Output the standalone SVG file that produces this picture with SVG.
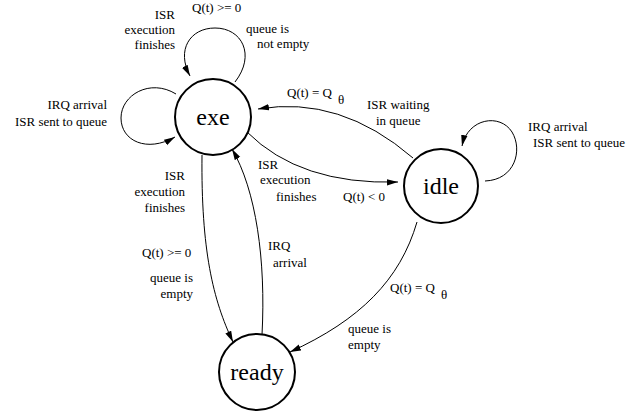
<svg xmlns="http://www.w3.org/2000/svg" width="636" height="419" viewBox="0 0 636 419">
<defs>
<marker id="arr" markerUnits="userSpaceOnUse" markerWidth="12" markerHeight="8" refX="11" refY="4" orient="auto">
<path d="M0,0.8 L11,4 L0,7.2 Z" fill="#000"/>
</marker>
<style>
.node{fill:#fff;stroke:#000;stroke-width:2}
.nl{font-family:'Liberation Serif','Times New Roman','DejaVu Serif',serif;font-size:24px;text-anchor:middle;fill:#000}
.e{fill:none;stroke:#000;stroke-width:1;marker-end:url(#arr)}
.t{font-family:'Liberation Serif','Times New Roman','DejaVu Serif',serif;font-size:13px;fill:#000}
.r{text-anchor:end}
</style>
</defs>
<rect width="636" height="419" fill="#fff"/>
<g id="connectors">
<path class="e" d="M235,82 C256,55 242,28 215,28 C190,28 176,50 190,76"/>
<path class="e" d="M176,94 C150,78 121,95 121,118 C121,141 147,153 175,137"/>
<path class="e" d="M485,181 C515,180 523,150 512,132 C500,113 468,118 462,146"/>
<path class="e" d="M413,158 Q340,95 258,109"/>
<path class="e" d="M247,132 Q300,185 398,182"/>
<path class="e" d="M202,155 C201,250 213,300 233,342"/>
<path class="e" d="M262,335 C266,260 256,190 232,149"/>
<path class="e" d="M417,222 C400,280 360,320 290,352"/>
</g>
<g id="exe"><circle class="node" cx="213" cy="117" r="38"/><text class="nl" x="213" y="125">exe</text></g>
<g id="idle"><circle class="node" cx="441" cy="186" r="37"/><text class="nl" x="441" y="194">idle</text></g>
<g id="ready"><circle class="node" cx="257" cy="372" r="38"/><text class="nl" x="257" y="380">ready</text></g>
<g id="labels">
<text class="t" x="192" y="12">Q(t) &gt;= 0</text>
<text class="t r" x="175" y="19">ISR</text>
<text class="t r" x="175" y="34">execution</text>
<text class="t r" x="175" y="49">finishes</text>
<text class="t" x="246" y="33">queue is</text>
<text class="t" x="257" y="48">not empty</text>
<text class="t r" x="107" y="109">IRQ arrival</text>
<text class="t r" x="107" y="126">ISR sent to queue</text>
<text class="t" x="287" y="97">Q(t) = Q</text>
<text class="t" x="338" y="104">θ</text>
<text class="t" x="367" y="109">ISR waiting</text>
<text class="t" x="376" y="125">in queue</text>
<text class="t" x="258" y="169">ISR</text>
<text class="t" x="260" y="184">execution</text>
<text class="t" x="276" y="201">finishes</text>
<text class="t" x="343" y="201">Q(t) &lt; 0</text>
<text class="t" x="528" y="131">IRQ arrival</text>
<text class="t" x="533" y="147">ISR sent to queue</text>
<text class="t r" x="185" y="180">ISR</text>
<text class="t r" x="185" y="196">execution</text>
<text class="t r" x="185" y="212">finishes</text>
<text class="t" x="142" y="257">Q(t) &gt;= 0</text>
<text class="t r" x="193" y="282">queue is</text>
<text class="t r" x="193" y="298">empty</text>
<text class="t" x="268" y="250">IRQ</text>
<text class="t" x="273" y="267">arrival</text>
<text class="t" x="390" y="292">Q(t) = Q</text>
<text class="t" x="441" y="299">θ</text>
<text class="t" x="348" y="333">queue is</text>
<text class="t" x="348" y="349">empty</text>
</g>
</svg>
